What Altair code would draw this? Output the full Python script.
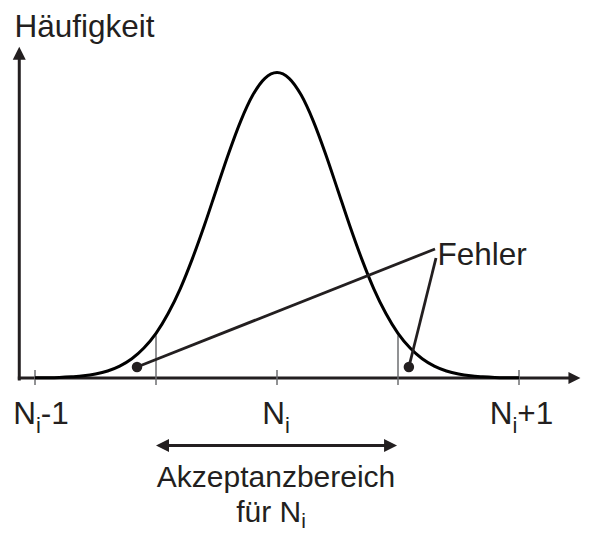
import altair as alt
import pandas as pd

# ---- data (x in units relative to N_i, y = relative frequency, peak = 1) ----
curve_u = [-1.0, -0.95, -0.9, -0.85, -0.8, -0.75, -0.7, -0.65, -0.6, -0.55, -0.5,
           -0.45, -0.4, -0.35, -0.3, -0.25, -0.2, -0.15, -0.1, -0.05, 0.0,
           0.05, 0.1, 0.15, 0.2, 0.25, 0.3, 0.35, 0.4, 0.45, 0.5,
           0.55, 0.6, 0.65, 0.7, 0.75, 0.8, 0.85, 0.9, 0.95, 1.0]
curve_h = [0.0005, 0.001, 0.002, 0.004, 0.007, 0.013, 0.023, 0.039, 0.063, 0.098, 0.146,
           0.211, 0.292, 0.390, 0.500, 0.618, 0.735, 0.841, 0.926, 0.981, 1.0,
           0.981, 0.926, 0.841, 0.735, 0.618, 0.500, 0.390, 0.292, 0.211, 0.146,
           0.098, 0.063, 0.039, 0.023, 0.013, 0.007, 0.004, 0.002, 0.001, 0.0005]

tick_u = [-1.0, 0.0, 1.0]
bound_u = [-0.5, 0.5]
bound_top = [0.14, 0.14]

error_dot_u = [-0.5785, 0.545]
error_dot_v = [0.036, 0.036]
error_src_u = [0.653, 0.657]
error_src_v = [0.4223, 0.3928]

label_n_u = [-0.996, 0.033, 0.973]
label_suffix = ["-1", "", "+1"]
label_suffix_u = [-0.9758, 0.0, 0.9932]

XDOM = [-1.1116, 1.2562]
YDOM = [-0.5041, 1.2111]

INK = "#231f20"
GRAY = "#6d6e71"
FONT = "Liberation Sans"
FS = 31.5
FS_SUB = 22
FS_B = 30
FS_B_SUB = 21

xs = alt.Scale(domain=XDOM, nice=False, zero=False)
ys = alt.Scale(domain=YDOM, nice=False, zero=False)


def X(f):
    return alt.X(f, type="quantitative", scale=xs, axis=None)


def Y(f):
    return alt.Y(f, type="quantitative", scale=ys, axis=None)


# axes lines
axes_df = pd.DataFrame({
    "x": [-1.071, -1.065], "y": [0.0, -0.008],
    "x2": [1.21, -1.065], "y2": [0.0, 1.045],
})
axes = alt.Chart(axes_df).mark_rule(color=INK, strokeWidth=3).encode(
    x=X("x"), y=Y("y"), x2="x2", y2="y2")

# tick marks and acceptance boundaries
gray_df = pd.DataFrame({
    "x": tick_u + bound_u,
    "y": [0.026] * len(tick_u) + [-0.023] * len(bound_u),
    "y2": [-0.023] * len(tick_u) + bound_top,
})
gray = alt.Chart(gray_df).mark_rule(color=GRAY, strokeWidth=1.5).encode(
    x=X("x"), y=Y("y"), y2="y2")

curve_df = pd.DataFrame({"u": curve_u, "h": curve_h})
curve = alt.Chart(curve_df).mark_line(color="#000000", strokeWidth=3,
                                       interpolate="monotone").encode(
    x=X("u"), y=Y("h"))

# error annotation lines
err_df = pd.DataFrame({"x": error_src_u, "y": error_src_v,
                       "x2": error_dot_u, "y2": error_dot_v})
err_lines = alt.Chart(err_df).mark_rule(color=INK, strokeWidth=2.8).encode(
    x=X("x"), y=Y("y"), x2="x2", y2="y2")
dots_df = pd.DataFrame({"x": error_dot_u, "y": error_dot_v})
dots = alt.Chart(dots_df).mark_point(filled=True, color=INK, opacity=1,
                                     size=110, shape="circle").encode(
    x=X("x"), y=Y("y"))

# acceptance double arrow
acc_df = pd.DataFrame({"x": [-0.47], "x2": [0.466], "y": [-0.221]})
acc_line = alt.Chart(acc_df).mark_rule(color=INK, strokeWidth=3).encode(
    x=X("x"), x2="x2", y=Y("y"))

heads = []
head_specs = [
    # (u, v, path, size)
    (1.254, 0.0, "M0,0L-2,-1L-2,1Z", 144),           # x axis
    (-1.065, 1.084, "M0,0L-1,2L1,2Z", 169),          # y axis
    (-0.5, -0.221, "M0,0L2,-1L2,1Z", 169),           # left of double arrow
    (0.496, -0.221, "M0,0L-2,-1L-2,1Z", 169),        # right of double arrow
]
for hu, hv, path, sz in head_specs:
    heads.append(
        alt.Chart(pd.DataFrame({"x": [hu], "y": [hv]})).mark_point(
            shape=path, filled=True, color=INK, opacity=1, size=sz,
            strokeWidth=0).encode(x=X("x"), y=Y("y")))

# texts
left_df = pd.DataFrame({
    "t": ["Häufigkeit", "Fehler"] + [s for s in label_suffix if s],
    "x": [-1.085, 0.663] + [u for s, u in zip(label_suffix, label_suffix_u) if s],
    "y": [1.115, 0.37] + [-0.1506 for s in label_suffix if s],
})
left_txt = alt.Chart(left_df).mark_text(
    align="left", baseline="alphabetic", font=FONT, fontSize=FS, color=INK).encode(
    x=X("x"), y=Y("y"), text="t:N")

right_df = pd.DataFrame({"t": ["N", "N", "N"], "x": label_n_u,
                         "y": [-0.1506, -0.1506, -0.1506]})
right_txt = alt.Chart(right_df).mark_text(
    align="right", baseline="alphabetic", font=FONT, fontSize=FS, color=INK).encode(
    x=X("x"), y=Y("y"), text="t:N")

sub_df = pd.DataFrame({"t": ["i", "i", "i"], "x": label_n_u,
                       "y": [-0.18, -0.18, -0.18]})
sub_txt = alt.Chart(sub_df).mark_text(
    align="left", baseline="alphabetic", font=FONT, fontSize=FS_SUB, color=INK).encode(
    x=X("x"), y=Y("y"), text="t:N")

# caption below the double arrow
cap_df = pd.DataFrame({"t": ["Akzeptanzbereich"], "x": [-0.004], "y": [-0.3584]})
cap_txt = alt.Chart(cap_df).mark_text(
    align="center", baseline="alphabetic", font=FONT, fontSize=FS_B, color=INK).encode(
    x=X("x"), y=Y("y"), text="t:N")
fuer_df = pd.DataFrame({"t": ["für N"], "x": [0.1], "y": [-0.4714]})
fuer_txt = alt.Chart(fuer_df).mark_text(
    align="right", baseline="alphabetic", font=FONT, fontSize=FS_B, color=INK).encode(
    x=X("x"), y=Y("y"), text="t:N")
fuer_sub_df = pd.DataFrame({"t": ["i"], "x": [0.1], "y": [-0.4894]})
fuer_sub = alt.Chart(fuer_sub_df).mark_text(
    align="left", baseline="alphabetic", font=FONT, fontSize=FS_B_SUB, color=INK).encode(
    x=X("x"), y=Y("y"), text="t:N")

chart = alt.layer(axes, gray, curve, err_lines, dots, acc_line, *heads,
                  left_txt, right_txt, sub_txt, cap_txt, fuer_txt, fuer_sub).properties(
    width=573, height=524, padding=0,
    autosize=alt.AutoSizeParams(type="none"),
).configure_view(stroke=None)

chart.save("out.html", embed_options={"renderer": "svg", "actions": False})
